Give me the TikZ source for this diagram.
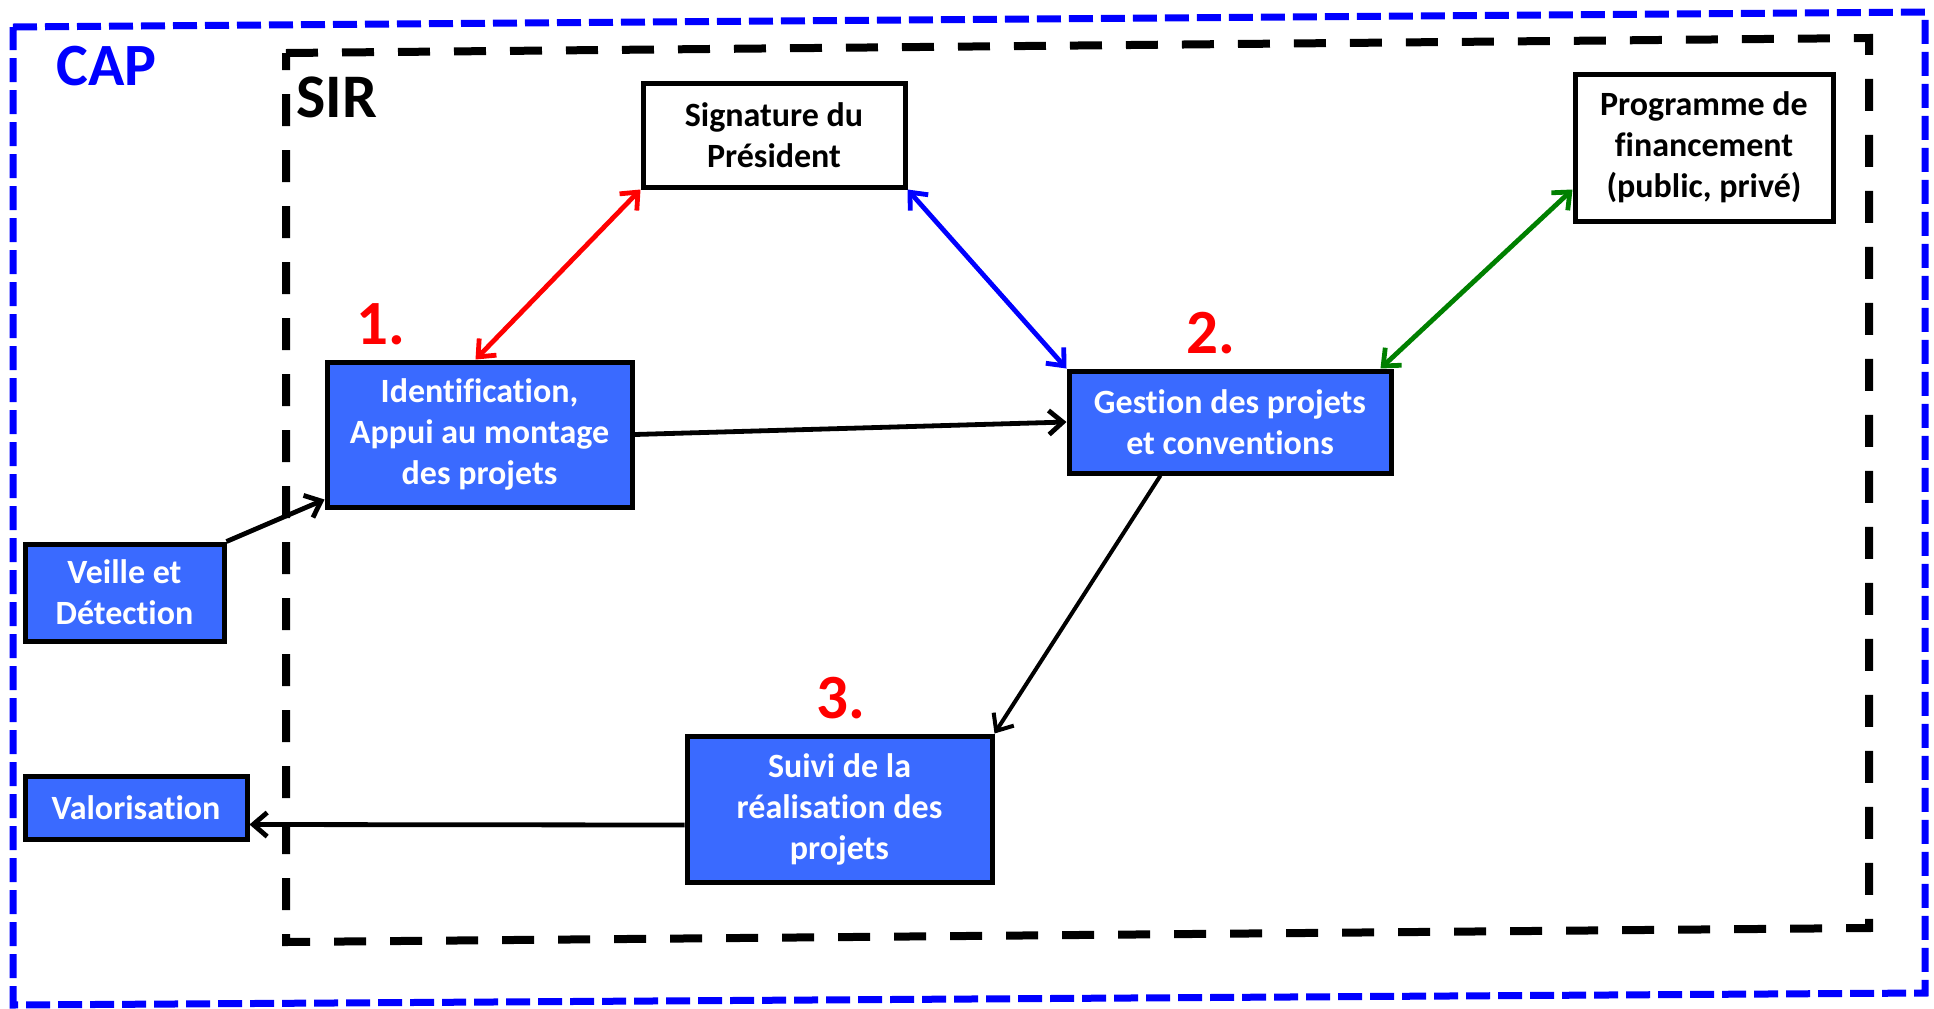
\documentclass[tikz,border=0pt]{standalone}
\usepackage{fontspec}
\setmainfont{Carlito}[Ligatures=NoCommon]
\usetikzlibrary{arrows.meta,calc}
\definecolor{boxblue}{RGB}{58,106,255}
\definecolor{capblue}{RGB}{0,0,255}
\definecolor{arrred}{RGB}{255,0,0}
\definecolor{arrgreen}{RGB}{0,128,0}
\tikzset{
  boxtext/.style={font=\fontsize{17}{20.5}\selectfont\bfseries, align=center, inner sep=0pt},
  bluebox/.style={boxtext, draw=black, line width=2.5pt, fill=boxblue, text=white},
  whitebox/.style={boxtext, draw=black, line width=2.5pt, fill=white, text=black},
  barb/.tip={Straight Barb[length=7pt,width=12pt]},
  conn/.style={line width=2.4pt, -barb},
  biconn/.style={line width=2.4pt, barb-barb},
  bignum/.style={anchor=base west, inner sep=0pt, text=arrred, font=\fontsize{31.5}{36}\selectfont\bfseries},
  framelabel/.style={anchor=base west, inner sep=0pt, font=\fontsize{30}{36}\selectfont\bfseries},
}
\begin{document}
\begin{tikzpicture}[x=0.5pt, y=-0.5pt]
\useasboundingbox (0,0) rectangle (1934,1008);
% frames
\draw[capblue, line width=3.5pt, dash pattern=on 12pt off 4pt]
  (13,27) -- (1925,12) -- (1925,993) -- (13,1005) -- cycle;
\draw[black, line width=4pt, dash pattern=on 16pt off 12pt]
  (286,53) -- (1869,38) -- (1869,928) -- (286,942) -- cycle;
\node[framelabel, text=capblue] (cap) at (56,85) {CAP};
\node[framelabel, text=black, font=\fontsize{31}{36}\selectfont\bfseries] (sir) at (296,117) {SIR};
% boxes
\node[bluebox, minimum width=152.5pt, minimum height=72.5pt] (ident) at (479.5,434.5) {Identification,\\Appui au montage\\des projets};
\node[bluebox, minimum width=161pt, minimum height=51pt] (gestion) at (1230,422) {Gestion des projets\\et conventions};
\node[whitebox, minimum width=131pt, minimum height=52pt] (sig) at (774,135) {Signature du\\Président};
\node[whitebox, minimum width=129pt, minimum height=73.5pt] (prog) at (1704,147.5) {Programme de\\financement\\(public, privé)};
\node[bluebox, minimum width=99.5pt, minimum height=48.5pt] (veille) at (124.5,592.5) {Veille et\\Détection};
\node[bluebox, minimum width=111pt, minimum height=31.5pt] (valor) at (136,807.5) {Valorisation};
\node[bluebox, minimum width=152.5pt, minimum height=73pt] (suivi) at (839.5,809) {Suivi de la\\réalisation des\\projets};
% numbers
\node[bignum] (n1) at (356,344) {1.};
\node[bignum] (n2) at (1186,353) {2.};
\node[bignum] (n3) at (816,718) {3.};
% connectors
\draw[biconn, arrred] (sig.south west) -- ($(ident.north)+(-4,0)$);
\draw[biconn, capblue] (sig.south east) -- (gestion.north west);
\draw[biconn, arrgreen] ($(prog.south west)+(0,-34)$) -- ($(gestion.north east)+(-13,0)$);
\draw[conn] (ident.east) -- (gestion.west);
\draw[conn] (veille.north east) -- ($(ident.south west)+(0,-10)$);
\draw[conn, line width=2pt] ($(gestion.south west)+(94,0)$) -- (suivi.north east);
\draw[conn] ($(suivi.west)+(0,16)$) -- ($(valor.east)+(0,17)$);
\end{tikzpicture}
\end{document}
